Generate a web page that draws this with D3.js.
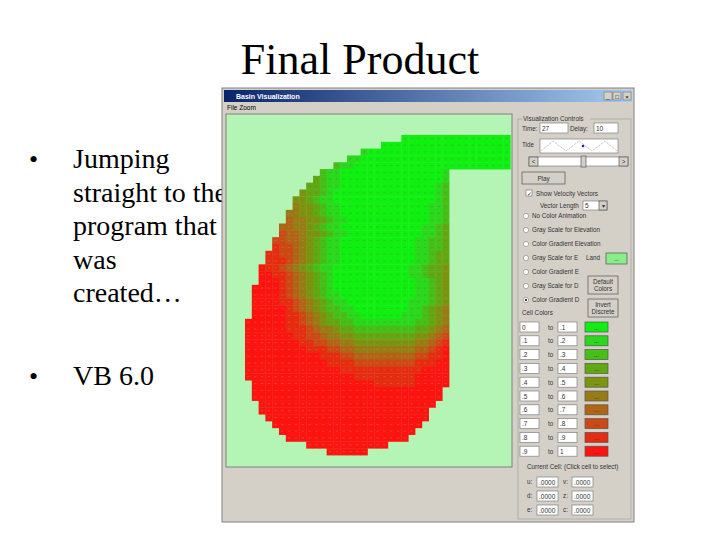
<!DOCTYPE html>
<html><head><meta charset="utf-8">
<script src="https://cdn.jsdelivr.net/npm/d3@7"></script>
<style>body{margin:0;background:#fff}svg{display:block}</style>
</head><body><svg width="720" height="540"></svg>
<script>
// basin grid: per row first column, end column (exclusive), and colour level per cell (0 green .. 9 red)
const rowStart = [23,20,17,15,13,11,10,9,8,7,7,6,6,5,5,4,4,3,3,2,2,2,1,1,1,1,1,0,0,0,0,0,0,0,0,0,1,1,1,2,2,3,4,5,6,9,12];
const rowEnd = [39,39,39,39,39,30,30,30,30,30,30,30,30,30,30,30,30,30,30,30,30,30,30,30,30,30,30,30,30,30,30,30,30,30,30,30,30,29,29,28,27,27,26,25,24,21,18];
const rowLevels = [
  "0000000000000000",
  "0000000000000000000",
  "1000000000000000000000",
  "110000000000000000000000",
  "21100000000000000000000000",
  "2110000000000000001",
  "32110000000000000001",
  "332110000000000000012",
  "4332100000000000000012",
  "44321100000000000000012",
  "54432110000000000000112",
  "554432110000000000000112",
  "655443211000000000000112",
  "6655432110000000000001123",
  "7665443211000000000001123",
  "77665432110000000000011223",
  "87765432110000000000011223",
  "887765432110000000000011233",
  "888765432110000000000011233",
  "9887654321100000000000112334",
  "9988765432100000000000112334",
  "9998765432100000000000011234",
  "99998765432100000000000011234",
  "99998765432110000000000011234",
  "99998876543211000000000111234",
  "99999876543221100000000112345",
  "99999887654322110000001112345",
  "999999887654332211111111122345",
  "999999888765543322222222233456",
  "999999988776554433333333344567",
  "999999998877665544444444455678",
  "999999999888776655555555566789",
  "999999999998887766666666677889",
  "999999999999888877777777788899",
  "999999999999998888888888889999",
  "999999999999999988888888899999",
  "99999999999999999988888899999",
  "9999999999999999999999999999",
  "9","9","9","9","9","9","9","9","9"
];
const levelColors = ["#10f010","#2ad81c","#46c018","#62a812","#7c9410","#967c12","#b06416","#cc4814","#e62c10","#fc1410"];
const lowBounds = ["0",".1",".2",".3",".4",".5",".6",".7",".8",".9"];
const highBounds = [".1",".2",".3",".4",".5",".6",".7",".8",".9","1"];
const radioLabels = ["No Color Animation","Gray Scale for Elevation","Color Gradient Elevation","Gray Scale for E","Color Gradient E","Gray Scale for D","Color Gradient D"];
const bulletLines = [["Jumping","straight to the","program that","was","created…"],["VB 6.0"]];

const svg = d3.select("svg");
const serif = "'Liberation Serif','Times New Roman',serif";
const ui = "'Liberation Sans',Arial,sans-serif";

// slide text
svg.append("text").attr("x",360).attr("y",74).attr("text-anchor","middle")
  .attr("font-family",serif).attr("font-size",44).text("Final Product");
const bulletY = [168,385];
bulletLines.forEach((lines,b)=>{
  svg.append("text").attr("x",29).attr("y",bulletY[b]).attr("font-family",serif).attr("font-size",26).text("•");
  lines.forEach((t,i)=>svg.append("text").attr("x",73).attr("y",bulletY[b]+i*33.5)
    .attr("font-family",serif).attr("font-size",28).text(t));
});

// window
const win = svg.append("g");
win.append("rect").attr("x",222).attr("y",88).attr("width",412).attr("height",434).attr("fill","#d4d0c8").attr("stroke","#808080");
const grad = svg.append("defs").append("linearGradient").attr("id","tb");
grad.append("stop").attr("offset","0").attr("stop-color","#0a246a");
grad.append("stop").attr("offset","1").attr("stop-color","#a6caf0");
win.append("rect").attr("x",224).attr("y",90).attr("width",408).attr("height",12).attr("fill","url(#tb)");
win.append("text").attr("x",236).attr("y",99).attr("fill","#fff").attr("font-weight","bold")
  .attr("font-family",ui).attr("font-size",7).text("Basin Visualization");
[604,613,623].forEach((x,i)=>{
  win.append("rect").attr("x",x).attr("y",92).attr("width",8).attr("height",8).attr("fill","#d4d0c8").attr("stroke","#666").attr("stroke-width",0.5);
  win.append("text").attr("x",x+4).attr("y",99).attr("text-anchor","middle").attr("font-family",ui).attr("font-size",6).text(["_","□","×"][i]);
});
win.append("text").attr("x",227).attr("y",110).attr("font-family",ui).attr("font-size",6.5).text("File   Zoom");

// plot area
const px0=226, px1=512, py0=114, py1=467;
win.append("rect").attr("x",px0).attr("y",py0).attr("width",px1-px0).attr("height",py1-py0)
  .attr("fill","#b4f5b6").attr("stroke","#808080");

const x = d3.scaleLinear().domain([0,39]).range([245,510.2]);
const y = d3.scaleLinear().domain([0,47]).range([135,455]);
const color = d3.scaleOrdinal().domain(d3.range(10)).range(levelColors);
const cells = [];
rowStart.forEach((s,r)=>{
  const lv = rowLevels[r];
  for(let c=s;c<rowEnd[r];c++){
    const ch = lv[Math.min(c-s, lv.length-1)];
    cells.push({r,c,v:+ch});
  }
});
const cw = x(1)-x(0), ch = y(1)-y(0);
win.append("g").selectAll("rect").data(cells).join("rect")
  .attr("x",d=>x(d.c)).attr("y",d=>y(d.r)).attr("width",cw+0.4).attr("height",ch+0.4)
  .attr("fill",d=>color(d.v));
// velocity vector marks
win.append("g").selectAll("line").data(cells).join("line")
  .attr("x1",d=>x(d.c)+cw/2-1.2).attr("x2",d=>x(d.c)+cw/2+1.2)
  .attr("y1",d=>y(d.r)+ch/2).attr("y2",d=>y(d.r)+ch/2)
  .attr("stroke",d=>d.v<5?"#5a7a50":"#e08a60").attr("stroke-width",0.6).attr("opacity",0.6);

// control panel helpers
function box(x0,y0,w,h,t){
  win.append("rect").attr("x",x0).attr("y",y0).attr("width",w).attr("height",h).attr("fill","#fff").attr("stroke","#808080").attr("stroke-width",0.7);
  if(t) win.append("text").attr("x",x0+2).attr("y",y0+h-2.5).attr("font-family",ui).attr("font-size",6.5).attr("fill","#333").text(t);
}
function button(x0,y0,w,h,fill,lines){
  win.append("rect").attr("x",x0).attr("y",y0).attr("width",w).attr("height",h).attr("fill",fill).attr("stroke","#555").attr("stroke-width",0.7);
  (lines||[]).forEach((t,i)=>win.append("text").attr("x",x0+w/2).attr("y",y0+h/2+2.5+(i-(lines.length-1)/2)*7)
    .attr("text-anchor","middle").attr("font-family",ui).attr("font-size",6.3).attr("fill","#333").text(t));
}
function label(x0,y0,t,anchor){
  win.append("text").attr("x",x0).attr("y",y0).attr("text-anchor",anchor||"start").attr("font-family",ui).attr("font-size",6.3).attr("fill","#333").text(t);
}

win.append("rect").attr("x",518).attr("y",119).attr("width",113).attr("height",400).attr("fill","none").attr("stroke","#999").attr("stroke-width",0.6);
win.append("rect").attr("x",522).attr("y",115).attr("width",68).attr("height",8).attr("fill","#d4d0c8");
label(523,121,"Visualization Controls");
label(522,131,"Time:"); box(540,123,28,10,"27");
label(570,131,"Delay:"); box(594,123,24,10,"10");
label(522,147,"Tide"); box(540,139,78,14);
win.append("path").attr("d",d3.line().curve(d3.curveLinear)([[541,151],[553,141],[566,151],[579,141],[592,151],[605,141],[617,151]]))
  .attr("fill","none").attr("stroke","#888").attr("stroke-dasharray","1,1").attr("stroke-width",0.7);
win.append("circle").attr("cx",583).attr("cy",146).attr("r",1.3).attr("fill","#22a");
box(529,157,99,9); button(529,157,9,9,"#d4d0c8",["<"]); button(619,157,9,9,"#d4d0c8",[">"]);
button(581,156,5,11,"#d4d0c8");
button(522,172,43,12,"#d4d0c8",["Play"]);
box(526,190,6,6); label(527,195.5,"✓"); label(536,196,"Show Velocity Vectors");
label(540,208,"Vector Length"); box(583,201,24,9,"5"); button(599,201,8,9,"#d4d0c8",["▾"]);
radioLabels.forEach((t,i)=>{
  const yy=218+i*14;
  win.append("circle").attr("cx",526).attr("cy",yy-2).attr("r",2.6).attr("fill","#fff").attr("stroke","#808080").attr("stroke-width",0.6);
  if(i===6) win.append("circle").attr("cx",526).attr("cy",yy-2).attr("r",1).attr("fill","#000");
  label(532,yy,t);
});
label(586,260,"Land"); button(606,253,21,11,"#88ee88",["..."]);
button(588,276,30,18,"#d4d0c8",["Default","Colors"]);
button(588,299,30,18,"#d4d0c8",["Invert","Discrete"]);
label(522,315,"Cell Colors");
lowBounds.forEach((lo,i)=>{
  const yy=322+i*13.8;
  box(520,yy,19,10,lo); label(548,yy+7.5,"to"); box(558,yy,19,10,highBounds[i]);
  button(585,yy,23,10,levelColors[i],["..."]);
});
label(527,469,"Current Cell:   (Click cell to select)");
[["u:","v:"],["d:","z:"],["e:","c:"]].forEach((p,i)=>{
  const yy=477+i*14;
  label(527,yy+7,p[0]); box(537,yy,21,10,".0000");
  label(563,yy+7,p[1]); box(572,yy,21,10,".0000");
});
</script></body></html>
